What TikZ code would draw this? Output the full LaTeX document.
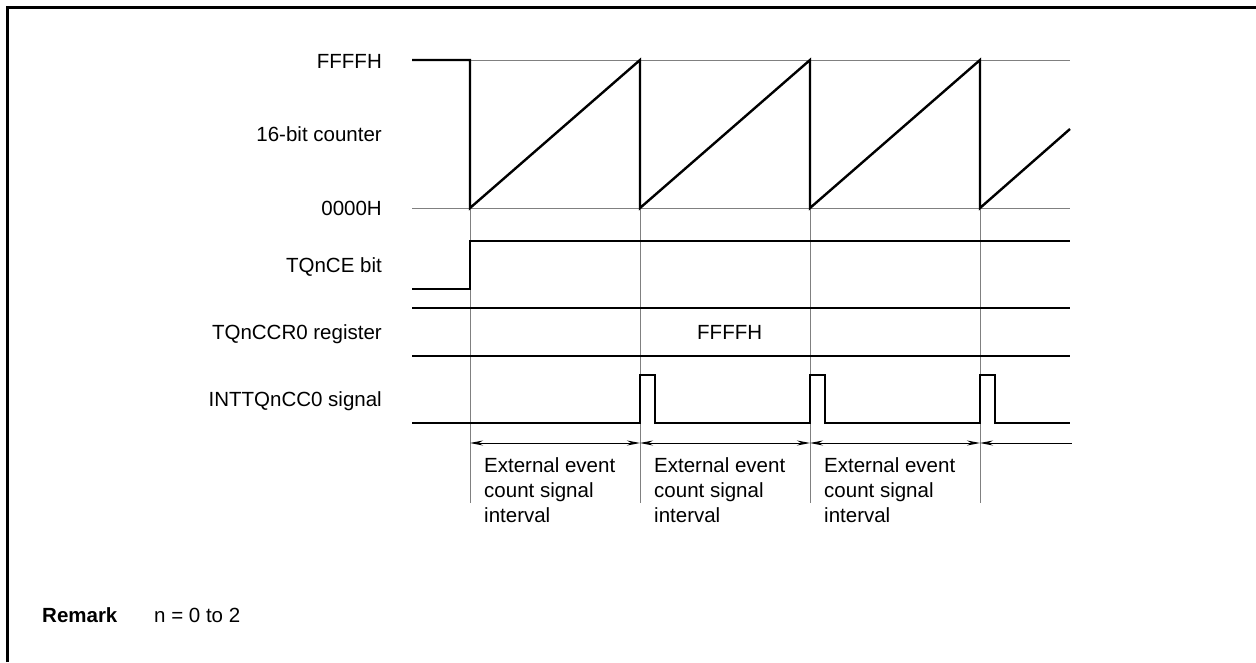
\documentclass[tikz,border=0pt]{standalone}
\usepackage{fontspec}
\setmainfont{Liberation Sans}
\usetikzlibrary{arrows.meta}
\begin{document}
\begin{tikzpicture}[x=1pt,y=-1pt,
  lbl/.style={anchor=base east,inner sep=0pt,font=\fontsize{20.5}{25}\selectfont},
  txt/.style={inner sep=0pt,font=\fontsize{20.5}{25}\selectfont},
  sig/.style={line width=2.4pt,line join=miter},
  grid/.style={line width=1pt,draw=black!50},
  dim/.style={line width=0.9pt,{Stealth[length=13pt,width=5pt]}-{Stealth[length=13pt,width=5pt]}},
  dimL/.style={line width=0.9pt,{Stealth[length=13pt,width=5pt]}-},
  frame/.style={line width=3pt}]
\useasboundingbox (0,0) rectangle (1256,662);
% frame (top and left edges)
\draw[frame] (7,662) -- (7,7) -- (1256,7);
% labels
\node[lbl] (lf) at (382,68) {FFFFH};
\node[lbl] (lc) at (382,141) {16-bit counter};
\node[lbl] (lz) at (382,215) {0000H};
\node[lbl] (lce) at (382,272) {TQnCE bit};
\node[lbl] (lccr) at (382,339) {TQnCCR0 register};
\node[lbl] (lint) at (382,406) {INTTQnCC0 signal};
% grid lines
\draw[grid] (470,60) -- (1070,60);
\draw[grid] (412,208) -- (1070,208);
\draw[grid] (470,208) -- (470,503);
\draw[grid] (640,60) -- (640,503);
\draw[grid] (810,60) -- (810,503);
\draw[grid] (980,60) -- (980,503);
% counter
\draw[sig] (412,60) -- (470,60) -- (470,208) -- (640,60) -- (640,208) -- (810,60) -- (810,208) -- (980,60) -- (980,208) -- (1070,129);
% TQnCE
\draw[sig] (412,289) -- (470,289) -- (470,241) -- (1070,241);
% TQnCCR0
\draw[sig] (412,308) -- (1070,308);
\draw[sig] (412,356) -- (1070,356);
\node[txt,anchor=base west] (ccrv) at (697,339) {FFFFH};
% INTTQnCC0
\draw[sig] (412,423) -- (640,423) -- (640,375) -- (655,375) -- (655,423) -- (810,423) -- (810,375) -- (825,375) -- (825,423) -- (980,423) -- (980,375) -- (995,375) -- (995,423) -- (1070,423);
% interval arrows
\coordinate (a0) at (470,443);
\coordinate (a1) at (640,443);
\coordinate (a2) at (810,443);
\coordinate (a3) at (980,443);
\coordinate (a4) at (1072,443);
\draw[dim] (a0) -- (a1);
\draw[dim] (a1) -- (a2);
\draw[dim] (a2) -- (a3);
\draw[dimL] (a3) -- (a4);
\node[txt,anchor=north west,align=left] (t1) at (484,457) {External event\\count signal\\interval};
\node[txt,anchor=north west,align=left] (t2) at (654,457) {External event\\count signal\\interval};
\node[txt,anchor=north west,align=left] (t3) at (824,457) {External event\\count signal\\interval};
% remark
\node[txt,anchor=base west] (rem) at (42,622) {\textbf{Remark}};
\node[txt,anchor=base west] (remv) at (154,622) {n = 0 to 2};
\end{tikzpicture}
\end{document}
